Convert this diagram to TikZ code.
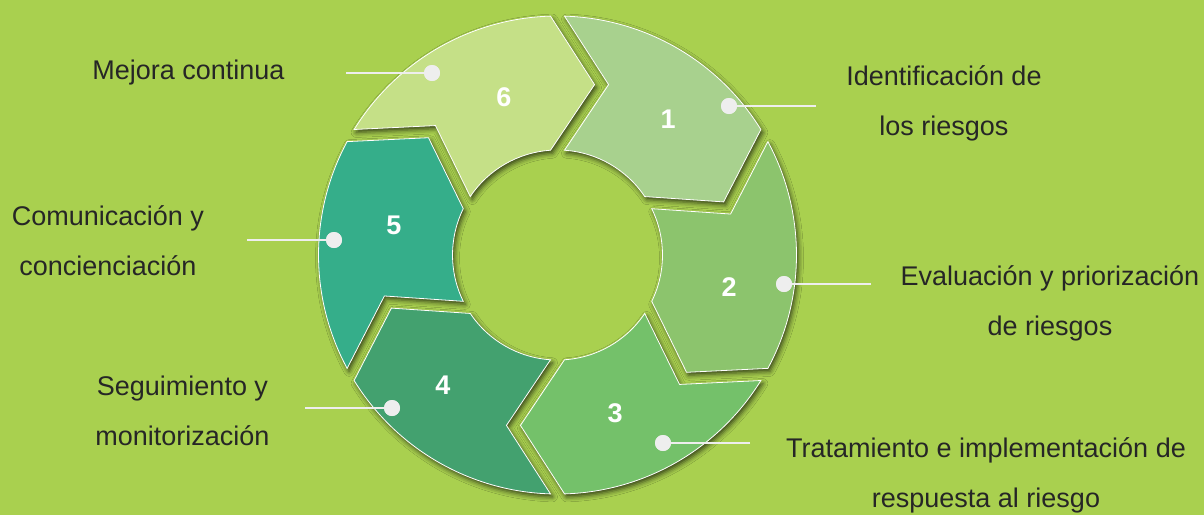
\documentclass[tikz,border=0pt]{standalone}
\usepackage{fontspec}
\setmainfont{Liberation Sans}
\usetikzlibrary{shadows.blur}
\definecolor{bg}{HTML}{A9D04F}
\definecolor{s1}{HTML}{A8D18E}
\definecolor{s2}{HTML}{8CC46D}
\definecolor{s3}{HTML}{74C16A}
\definecolor{s4}{HTML}{43A16F}
\definecolor{s5}{HTML}{35AE8A}
\definecolor{s6}{HTML}{C5E087}
\definecolor{txt}{HTML}{262626}
\definecolor{dotc}{HTML}{EEEEEE}
\tikzset{
  segshape/.style={insert path={(88.32:239) arc[start angle=88.32, end angle=31.68, radius=239] -- (166.1,53.1) -- (33.82:105) arc[start angle=33.82, end angle=86.18, radius=105] -- (51.07,170.4) -- cycle}},
  segshadow/.style={blur shadow={shadow xshift=2pt, shadow yshift=-3pt, shadow blur radius=5pt, shadow opacity=70}},
  segfill/.style={draw=white, line width=0.8pt},
  num/.style={text=white, font=\fontsize{27}{27}\selectfont\bfseries, inner sep=0pt},
  lab/.style={text=txt, font=\fontsize{27}{50}\selectfont, align=center, inner sep=0pt},
  dot/.style={circle, fill=dotc, minimum size=16pt, inner sep=0pt},
  conn/.style={draw=dotc, line width=2.5pt}
}
\begin{document}
\begin{tikzpicture}[x=1pt,y=1pt]
\useasboundingbox (0,0) rectangle (1204,-515);
\fill[bg] (0,0) rectangle (1204,-515);
% shadows first
\foreach \k in {0,...,5} {
  \begin{scope}[shift={(557.5,-255)}, rotate=-60*\k]
    \path[segshape, segshadow];
  \end{scope}
}
% segments
\foreach \k/\c in {0/s1,1/s2,2/s3,3/s4,4/s5,5/s6} {
  \begin{scope}[shift={(557.5,-255)}, rotate=-60*\k]
    \path[segshape, segfill, fill=\c];
  \end{scope}
}
% numbers
\node[num] (n1) at (668,-119) {1};
\node[num] (n2) at (729,-287) {2};
\node[num] (n3) at (615,-413) {3};
\node[num] (n4) at (443,-385) {4};
\node[num] (n5) at (394,-225) {5};
\node[num] (n6) at (504,-97) {6};
% connectors
\coordinate (e1) at (816,-106);
\coordinate (e2) at (871,-284);
\coordinate (e3) at (750,-443);
\coordinate (e4) at (305,-408);
\coordinate (e5) at (247,-240);
\coordinate (e6) at (346,-73);
\node[dot] (d1) at (729,-106) {};
\node[dot] (d2) at (784,-284) {};
\node[dot] (d3) at (663,-443) {};
\node[dot] (d4) at (392,-408) {};
\node[dot] (d5) at (334,-240) {};
\node[dot] (d6) at (432,-73) {};
\foreach \i in {1,...,6} { \draw[conn] (e\i) -- (d\i.center); }
\foreach \i in {1,...,6} { \node[dot] at (d\i) {}; }
% labels (base = baseline of last line)
\node[lab, anchor=base] (t6) at (188.5,-79) {Mejora continua};
\node[lab, anchor=base] (t1) at (944,-135) {Identificación de\\los riesgos};
\node[lab, anchor=base] (t2) at (1050,-335) {Evaluación y priorización\\de riesgos};
\node[lab, anchor=base] (t3) at (986,-507) {Tratamiento e implementación de\\respuesta al riesgo};
\node[lab, anchor=base] (t4) at (182.5,-445) {Seguimiento y\\monitorización};
\node[lab, anchor=base] (t5) at (108,-275) {Comunicación y\\concienciación};
\end{tikzpicture}
\end{document}
